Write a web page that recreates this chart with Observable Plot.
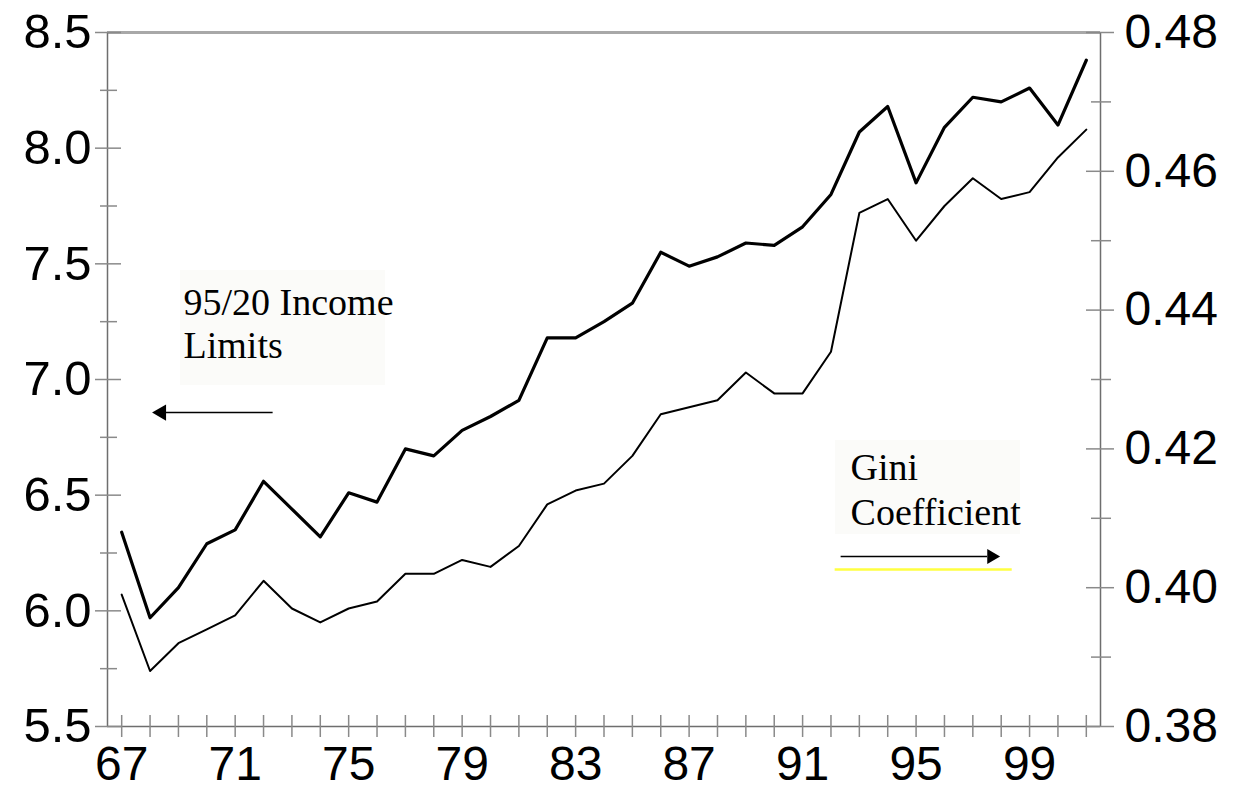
<!DOCTYPE html>
<html>
<head>
<meta charset="utf-8">
<script src="https://cdn.jsdelivr.net/npm/d3@7"></script>
<script src="https://cdn.jsdelivr.net/npm/@observablehq/plot@0.6"></script>
<style>
  html, body { margin: 0; padding: 0; background: white; }
</style>
</head>
<body>
<div id="chart"></div>
<script>
// Years (19xx / 20xx shown as two digits)
const years = [67,68,69,70,71,72,73,74,75,76,77,78,79,80,81,82,83,84,85,86,87,88,89,90,91,92,93,94,95,96,97,98,99,100,101];
// 95/20 income limits ratio (left axis)
const ratio = [6.34,5.97,6.10,6.29,6.35,6.56,6.44,6.32,6.51,6.47,6.70,6.67,6.78,6.84,6.91,7.18,7.18,7.25,7.33,7.55,7.49,7.53,7.59,7.58,7.66,7.80,8.07,8.18,7.85,8.09,8.22,8.20,8.26,8.10,8.38];
// Gini coefficient (right axis)
const gini = [0.399,0.388,0.392,0.394,0.396,0.401,0.397,0.395,0.397,0.398,0.402,0.402,0.404,0.403,0.406,0.412,0.414,0.415,0.419,0.425,0.426,0.427,0.431,0.428,0.428,0.434,0.454,0.456,0.450,0.455,0.459,0.456,0.457,0.462,0.466];

const xTickLabels = [67,71,75,79,83,87,91,95,99];
const leftTicks = [5.5,6.0,6.5,7.0,7.5,8.0,8.5];
const leftMinor = [5.75,6.25,6.75,7.25,7.75,8.25];
const rightTicks = [0.38,0.40,0.42,0.44,0.46,0.48];
const rightMinor = [0.39,0.41,0.43,0.45,0.47];

const annoIncome = "95/20 Income\nLimits";
const annoGini = "Gini\nCoefficient";

// map Gini onto left-axis scale: 0.38..0.48 -> 5.5..8.5
const toLeft = g => 5.5 + (g - 0.38) * 30;
const fromLeft = v => (v - 5.5) / 30 + 0.38;

const rows = years.map((yr, i) => ({year: yr, ratio: ratio[i], gini: gini[i], giniL: toLeft(gini[i])}));

const sans = "Liberation Sans, Arial, sans-serif";
const serif = "Liberation Serif, Times New Roman, serif";
const tickColor = "#8a8a8a";
const axisColor = "#6e6e6e";

const chart = Plot.plot({
  width: 1234,
  height: 789,
  marginLeft: 107,
  marginRight: 134,
  marginTop: 32,
  marginBottom: 63,
  style: {background: "white", fontFamily: sans, color: "black"},
  x: {domain: [66.5, 101.5], label: null},
  y: {domain: [5.5, 8.5], label: null},
  marks: [
    // faint annotation backgrounds
    Plot.rect([0], {x1: 69.07, x2: 76.30, y1: 6.974, y2: 7.471, fill: "#fbfbf9"}),
    Plot.rect([0], {x1: 92.16, x2: 98.68, y1: 6.33, y2: 6.736, fill: "#fbfbf9"}),

    // frame lines
    Plot.ruleY([8.5], {stroke: "#a8a8a8", strokeWidth: 3}),
    Plot.ruleX([66.5], {stroke: axisColor, strokeWidth: 1.5}),
    Plot.ruleX([101.5], {stroke: axisColor, strokeWidth: 1.5}),
    Plot.ruleY([5.5], {stroke: axisColor, strokeWidth: 1.5}),

    // left axis ticks (crossing)
    Plot.axisY(leftTicks, {anchor: "left", tickSize: 26, dx: 14, fill: "none", stroke: tickColor, strokeWidth: 1.5, label: null}),
    Plot.axisY(leftMinor, {anchor: "left", tickSize: 17, dx: 10, fill: "none", stroke: tickColor, strokeWidth: 1.5, label: null}),
    Plot.axisY(leftTicks, {anchor: "left", tickSize: 0, tickPadding: 16, tickFormat: d => d.toFixed(1), fontSize: 49, fontFamily: sans, fill: "black", label: null}),

    // right axis ticks
    Plot.axisY(rightTicks.map(toLeft), {anchor: "right", tickSize: 28, dx: -15, fill: "none", stroke: tickColor, strokeWidth: 1.5, label: null}),
    Plot.axisY(rightMinor.map(toLeft), {anchor: "right", tickSize: 20, dx: -10, fill: "none", stroke: tickColor, strokeWidth: 1.5, label: null}),
    Plot.axisY(rightTicks.map(toLeft), {anchor: "right", tickSize: 0, tickPadding: 24, tickFormat: v => fromLeft(v).toFixed(2), fontSize: 48, fontFamily: sans, fill: "black", label: null}),

    // x axis ticks
    Plot.axisX(years, {anchor: "bottom", tickSize: 22, dy: -11, fill: "none", stroke: tickColor, strokeWidth: 1.5, label: null}),
    Plot.axisX(xTickLabels, {anchor: "bottom", tickSize: 0, tickPadding: 19, tickFormat: d => String(d), fontSize: 48, fontFamily: sans, fill: "black", label: null}),

    // data lines
    Plot.line(rows, {x: "year", y: "giniL", stroke: "black", strokeWidth: 2}),
    Plot.line(rows, {x: "year", y: "ratio", stroke: "black", strokeWidth: 3.2}),

    // annotations
    Plot.text([annoIncome], {x: 69.18, y: 7.091, text: d => d, textAnchor: "start", lineAnchor: "bottom", lineHeight: 1.15, fontSize: 38, fontFamily: serif, fill: "black"}),
    Plot.link([0], {x1: 72.32, x2: 68.55, y1: 6.857, y2: 6.857, stroke: "black", strokeWidth: 1.5}),
    Plot.dot([0], {x: 68.40, y: 6.857, symbol: "triangle", rotate: -90, r: 6, fill: "black", stroke: "none"}),

    Plot.text([annoGini], {x: 92.69, y: 6.373, text: d => d, textAnchor: "start", lineAnchor: "bottom", lineHeight: 1.17, fontSize: 38, fontFamily: serif, fill: "black"}),
    Plot.link([0], {x1: 92.34, x2: 97.5, y1: 6.235, y2: 6.235, stroke: "black", strokeWidth: 1.5}),
    Plot.dot([0], {x: 97.66, y: 6.235, symbol: "triangle", rotate: 90, r: 5.5, fill: "black", stroke: "none"}),
    Plot.link([0], {x1: 92.13, x2: 98.37, y1: 6.179, y2: 6.179, stroke: "#ffff40", strokeWidth: 2.5})
  ]
});

document.getElementById("chart").appendChild(chart);
</script>
</body>
</html>
